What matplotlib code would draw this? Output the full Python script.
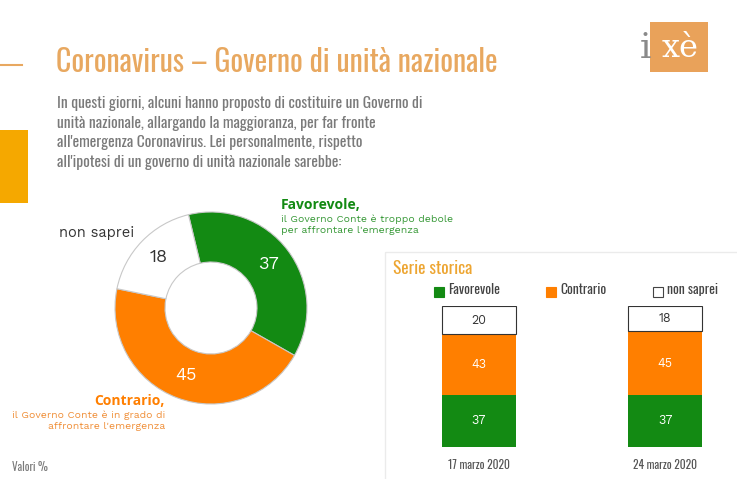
import matplotlib
matplotlib.use("Agg")
import matplotlib.pyplot as plt
from matplotlib.patches import Rectangle
import numpy as np

# data
donut_labels = ["Favorevole", "Contrario", "non saprei"]
donut_values = [37, 45, 18]

dates = ["17 marzo 2020", "24 marzo 2020"]
favorevole = [37, 37]
contrario = [43, 45]
non_saprei = [20, 18]

GREEN = "#138A13"
ORANGE = "#FF7F00"
TAN = "#E8A860"
GRAY = "#7A7A7A"
NARROW = ["Oswald", "Barlow Condensed", "DejaVu Sans"]
BODY = ["Work Sans", "Rubik", "Open Sans", "DejaVu Sans"]
BODY_BOLD = ["Work Sans SemiBold", "Open Sans", "DejaVu Sans"]

W, H = 737, 479
fig = plt.figure(figsize=(W / 100, H / 100), dpi=100)
fig.patch.set_facecolor("white")

# canvas in pixel coords for decorations and text
cv = fig.add_axes([0, 0, 1, 1])
cv.set_xlim(0, W)
cv.set_ylim(H, 0)
cv.axis("off")

# decorations
cv.plot([0, 22], [65, 65], color=TAN, lw=1.5)
cv.add_patch(Rectangle((0, 130), 28, 73, color="#F5A800", lw=0))
cv.add_patch(Rectangle((650, 22), 58, 50, color="#E9A25A", lw=0))
cv.text(646, 48, "i", fontsize=26, color="#8A8A8A", family="DejaVu Serif", ha="center", va="center")
cv.text(680, 48, "xè", fontsize=23, color="white", family="DejaVu Serif", ha="center", va="center")

# title and question
cv.text(56, 62, "Coronavirus \u2013 Governo di unità nazionale", fontsize=21.5, color=TAN,
        family=NARROW, weight="light", va="center", ha="left")
question = ("In questi giorni, alcuni hanno proposto di costituire un Governo di\n"
            "unità nazionale, allargando la maggioranza, per far fronte\n"
            "all'emergenza Coronavirus. Lei personalmente, rispetto\n"
            "all'ipotesi di un governo di unità nazionale sarebbe:")
cv.text(57, 96, question, fontsize=11.2, color=GRAY, family=NARROW, weight="light",
        va="top", ha="left", linespacing=1.38)

# donut
cx, cy, r = 211, 308, 100
dax = fig.add_axes([(cx - r) / W, (H - cy - r) / H, 2 * r / W, 2 * r / H])
wedges, _ = dax.pie(donut_values, colors=[GREEN, ORANGE, "white"], startangle=103.6,
                    counterclock=False, radius=0.96,
                    wedgeprops=dict(width=0.5, edgecolor="#C8C8C8", linewidth=0.8))
dax.set_xlim(-1, 1)
dax.set_ylim(-1, 1)
dax.set_aspect("equal")
dax.axis("off")

# value labels on donut
ang = 103.6
for v, col in zip(donut_values, ["white", "white", "#333333"]):
    mid = np.deg2rad(ang - v * 3.6 / 2)
    ang -= v * 3.6
    dax.text(0.72 * np.cos(mid), 0.72 * np.sin(mid), str(v), color=col, fontsize=13,
             family=BODY, ha="center", va="center")

cv.text(97, 233, "non saprei", fontsize=10.5, color="#333333", family=BODY, ha="center", va="center")
cv.text(281, 205, "Favorevole,", fontsize=10, color=GREEN, family=BODY_BOLD, weight="bold",
        ha="left", va="center")
cv.text(281, 225, "il Governo Conte è troppo debole\nper affrontare l'emergenza", fontsize=7.5,
        color="#3A9A3A", family=BODY, ha="left", va="center", linespacing=1.3)
cv.text(165, 401, "Contrario,", fontsize=10, color=ORANGE, family=BODY_BOLD, weight="bold",
        ha="right", va="center")
cv.text(165, 421, "il Governo Conte è in grado di\naffrontare l'emergenza", fontsize=7.5,
        color="#F0903A", family=BODY, ha="right", va="center", linespacing=1.3,
        multialignment="right")
cv.text(12, 467, "Valori %", fontsize=8, color=GRAY, family=NARROW, weight="light",
        ha="left", va="center")

# bar panel frame
cv.add_patch(Rectangle((385, 252), 360, 240, fill=False, edgecolor="#EBEBEB", lw=1))
cv.text(393, 269, "Serie storica", fontsize=12.5, color="#EDA531", family=NARROW,
        weight="bold", ha="left", va="center")
for x0, name, col in [(434, "Favorevole", GREEN), (546, "Contrario", ORANGE), (653, "non saprei", "white")]:
    cv.add_patch(Rectangle((x0, 287), 10, 10, facecolor=col,
                           edgecolor="#444444" if col == "white" else col, lw=0.8))
    cv.text(x0 + 14, 290, name, fontsize=9.8, color="#444444", family=NARROW, weight="light",
            ha="left", va="center")

# stacked bars
bax = fig.add_axes([386 / W, (H - 447) / H, 350 / W, 141 / H])
x = np.arange(len(dates))
bw = 0.398
bax.bar(x, favorevole, width=bw, color=GREEN)
bax.bar(x, contrario, width=bw, bottom=favorevole, color=ORANGE)
bottom3 = np.array(favorevole) + np.array(contrario)
bax.bar(x, non_saprei, width=bw, bottom=bottom3, color="white", edgecolor="#333333", linewidth=0.8)
bax.set_xlim(-0.5, 1.38)
bax.set_ylim(0, 100)
bax.axis("off")
for i in range(len(dates)):
    bax.text(x[i], favorevole[i] / 2, str(favorevole[i]), color="white", fontsize=9,
             family=BODY, ha="center", va="center")
    bax.text(x[i], favorevole[i] + contrario[i] / 2, str(contrario[i]), color="white",
             fontsize=9, family=BODY, ha="center", va="center")
    bax.text(x[i], bottom3[i] + non_saprei[i] / 2, str(non_saprei[i]), color="#333333",
             fontsize=9, family=BODY, ha="center", va="center")
    bax.annotate(dates[i], (x[i], 0), xytext=(0, -13), textcoords="offset points",
                 ha="center", va="center", fontsize=8.3, color="#555555", family=NARROW,
                 weight="light")

fig.savefig("out.png", dpi=100, facecolor="white")
